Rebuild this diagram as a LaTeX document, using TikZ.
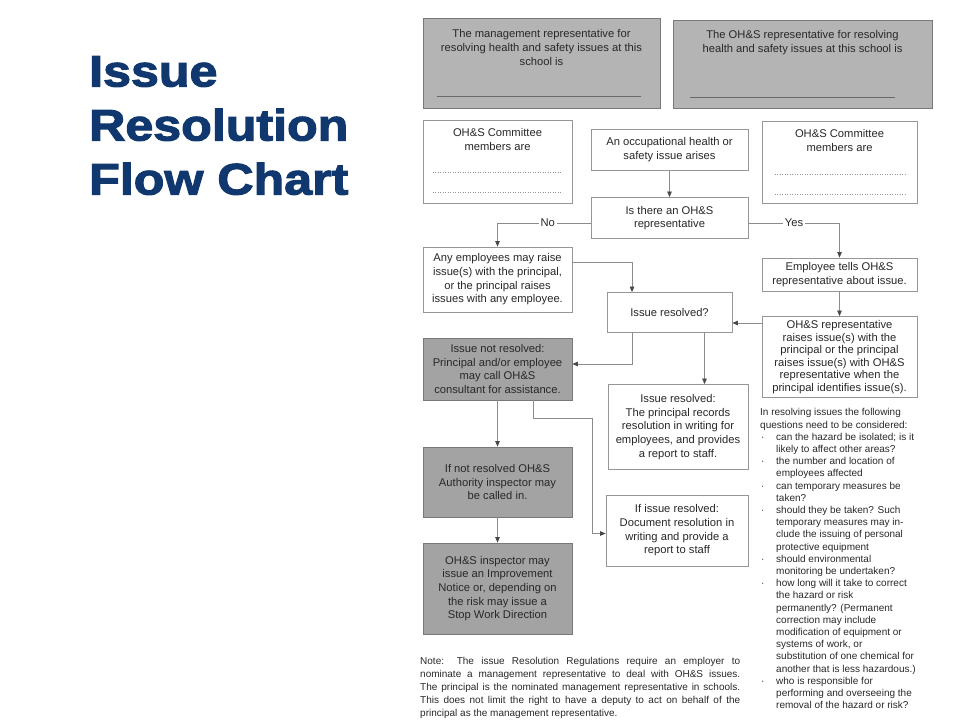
\documentclass[tikz,border=0pt]{standalone}
\usepackage{fontspec}
\setmainfont{Liberation Sans}
\newfontfamily\titlefont{Liberation Sans}[FakeStretch=1.14,BoldFeatures={FakeBold=2.6}]
\usetikzlibrary{arrows.meta,positioning}
\definecolor{navy}{RGB}{16,56,110}
\definecolor{edgegray}{RGB}{150,150,150}
\definecolor{lightfill}{RGB}{180,180,180}
\definecolor{darkfill}{RGB}{163,163,163}
\definecolor{inkgray}{RGB}{40,40,40}
\definecolor{wiregray}{RGB}{140,140,140}
\definecolor{rulegray}{RGB}{105,105,105}
\newcommand\chartsize{\fontsize{11.2}{13.7}\selectfont}
\newcommand\dotitem{\makebox[16pt][l]{\hspace{1pt}\textperiodcentered}}
\newcommand\cont{\hspace*{16pt}}
\tikzset{
  box/.style={draw=edgegray, line width=0.8pt, fill=white, align=center, inner sep=2pt, text=inkgray, font=\chartsize},
  shadebox/.style={box, draw=edgegray!80!black, fill=darkfill},
  headbox/.style={box, draw=edgegray!80!black, fill=lightfill},
  labeltext/.style={align=center, inner sep=0, text=inkgray, font=\chartsize},
  wire/.style={draw=wiregray, line width=0.7pt},
  arrow/.style={wire, -{Triangle[length=5.5pt,width=4.5pt,color=inkgray!85]}},
  tag/.style={fill=white, inner xsep=2pt, inner ysep=1pt, text=inkgray, font=\chartsize},
  dotline/.style={draw=rulegray!70, line width=0.5pt, dotted},
}
\begin{document}
\begin{tikzpicture}[x=1pt,y=-1pt]
\useasboundingbox (0,0) rectangle (960,720);

\node[anchor=north west, align=left, inner sep=0, text=navy, font=\titlefont\bfseries\fontsize{44}{54}\selectfont] (title) at (89,56) {Issue\\Resolution\\Flow Chart};

\node[headbox, minimum width=237, minimum height=90, label={[labeltext, anchor=north, yshift=-12pt]north:{The management representative for\\resolving health and safety issues at this\\school is}}] (mgmt) at (541.5,63) {};
\draw[rulegray, line width=0.8pt] ([xshift=14pt,yshift=12pt]mgmt.south west) -- ([xshift=-19pt,yshift=12pt]mgmt.south east);
\node[headbox, minimum width=259, minimum height=88, label={[labeltext, anchor=north, yshift=-11pt]north:{The OH\&S representative for resolving\\health and safety issues at this school is}}] (ohsrep) at (802.5,64) {};
\draw[rulegray, line width=0.8pt] ([xshift=17pt,yshift=11pt]ohsrep.south west) -- ([xshift=-37pt,yshift=11pt]ohsrep.south east);

\node[box, minimum width=149, minimum height=83, label={[labeltext, anchor=north, yshift=-9pt]north:{OH\&S Committee\\members are}}] (comleft) at (497.5,161.5) {};
\draw[dotline] ([xshift=10pt,yshift=31pt]comleft.south west) -- ([xshift=-10pt,yshift=31pt]comleft.south east);
\draw[dotline] ([xshift=10pt,yshift=11pt]comleft.south west) -- ([xshift=-10pt,yshift=11pt]comleft.south east);
\node[box, minimum width=155, minimum height=82, label={[labeltext, anchor=north, yshift=-9pt]north:{OH\&S Committee\\members are}}] (comright) at (839.5,162) {};
\draw[dotline] ([xshift=13pt,yshift=29pt]comright.south west) -- ([xshift=-12pt,yshift=29pt]comright.south east);
\draw[dotline] ([xshift=13pt,yshift=9pt]comright.south west) -- ([xshift=-12pt,yshift=9pt]comright.south east);

\node[box, minimum width=157, minimum height=41] (arise) at (669.5,149.5) {An occupational health or\\safety issue arises};
\node[box, minimum width=157, minimum height=41] (isthere) at (669.5,218) {Is there an OH\&S\\representative};
\node[box, minimum width=149, minimum height=65] (anyemp) at (497.5,279.5) {Any employees may raise\\issue(s) with the principal,\\or the principal raises\\issues with any employee.};
\node[box, minimum width=155, minimum height=33] (emptells) at (839.5,274.5) {Employee tells OH\&S\\representative about issue.};
\node[box, minimum width=125, minimum height=40] (resolved) at (669.5,312.5) {Issue resolved?};
\node[box, minimum width=155, minimum height=81, font=\fontsize{11.2}{12.6}\selectfont] (raises) at (839.5,357) {OH\&S representative\\raises issue(s) with the\\principal or the principal\\raises issue(s) with OH\&S\\representative when the\\principal identifies issue(s).};
\node[shadebox, minimum width=149, minimum height=62] (notres) at (497.5,369) {Issue not resolved:\\Principal and/or employee\\may call OH\&S\\consultant for assistance.};
\node[box, minimum width=140, minimum height=85] (recorded) at (678,427) {Issue resolved:\\The principal records\\resolution in writing for\\employees, and provides\\a report to staff.};
\node[shadebox, minimum width=149, minimum height=70] (ifnot) at (497.5,482) {If not resolved OH\&S\\Authority inspector may\\be called in.};
\node[box, minimum width=142, minimum height=71] (docres) at (677,530.5) {If issue resolved:\\Document resolution in\\writing and provide a\\report to staff};
\node[shadebox, minimum width=149, minimum height=91] (inspector) at (497.5,588.5) {OH\&S inspector may\\issue an Improvement\\Notice or, depending on\\the risk may issue a\\Stop Work Direction};

\coordinate (detour) at (592,418);

\draw[arrow] (arise) -- (isthere);
\draw[arrow] ([yshift=-5pt]isthere.west) -| node[tag, pos=0.23] {No} (anyemp.north);
\draw[arrow] ([yshift=-5pt]isthere.east) -| node[tag, pos=0.25] {Yes} (emptells.north);
\draw[arrow] ([yshift=17pt]anyemp.east) -| ([xshift=-37.5pt]resolved.north);
\draw[arrow] (emptells) -- (raises);
\draw[arrow] ([yshift=34pt]raises.west) coordinate (ask) -- (ask -| resolved.east);
\draw[arrow] ([xshift=-37.5pt]resolved.south) |- ([yshift=5pt]notres.east);
\draw[arrow] ([xshift=35pt]resolved.south) coordinate (ok) -- (ok |- recorded.north);
\draw[arrow] (notres) -- (ifnot);
\draw[arrow] ([xshift=36pt]notres.south) |- (detour) |- ([yshift=-3pt]docres.west);
\draw[arrow] (ifnot) -- (inspector);

\node[anchor=north west, align=left, inner sep=0, text=inkgray, font=\fontsize{10}{12.2}\selectfont] (questions) at (760,408.5) {In resolving issues the following\\questions need to be considered:\\
\dotitem can the hazard be isolated; is it\\\cont likely to affect other areas?\\
\dotitem the number and location of\\\cont employees affected\\
\dotitem can temporary measures be\\\cont taken?\\
\dotitem should they be taken? Such\\\cont temporary measures may in-\\\cont clude the issuing of personal\\\cont protective equipment\\
\dotitem should environmental\\\cont monitoring be undertaken?\\
\dotitem how long will it take to correct\\\cont the hazard or risk\\\cont permanently? (Permanent\\\cont correction may include\\\cont modification of equipment or\\\cont systems of work, or\\\cont substitution of one chemical for\\\cont another that is less hazardous.)\\
\dotitem who is responsible for\\\cont performing and overseeing the\\\cont removal of the hazard or risk?};

\node[anchor=north west, align=justify, text width=320, inner sep=0, text=inkgray, font=\fontsize{10}{13}\selectfont] (note) at (420,657.5) {Note: The issue Resolution Regulations require an employer to\linebreak nominate a management representative to deal with OH\&S issues.\linebreak The principal is the nominated management representative in schools.\linebreak This does not limit the right to have a deputy to act on behalf of the\linebreak principal as the management representative.};
\end{tikzpicture}
\end{document}
